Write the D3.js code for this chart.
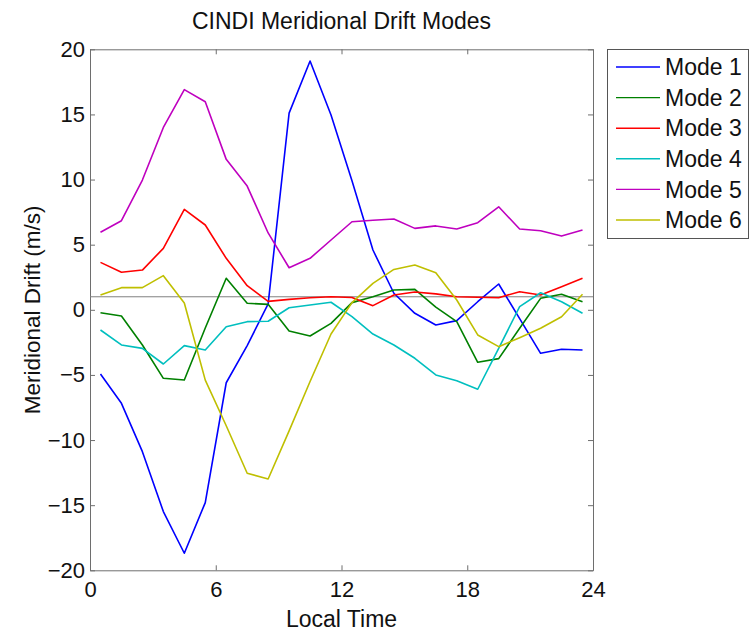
<!DOCTYPE html>
<html>
<head>
<meta charset="utf-8">
<script src="https://cdn.jsdelivr.net/npm/d3@7"></script>
<style>
  body { margin: 0; background: #fff; }
  svg { font-family: 'Liberation Sans', Arial, Helvetica, sans-serif; }
</style>
</head>
<body>
<div id="chart"></div>
<script>
// local time of each sample (hour bins)
const localTime = [0.5, 1.5, 2.5, 3.5, 4.5, 5.5, 6.5, 7.5, 8.5, 9.5, 10.5, 11.5,
  12.5, 13.5, 14.5, 15.5, 16.5, 17.5, 18.5, 19.5, 20.5, 21.5, 22.5, 23.5]

const modeNames = ['Mode 1', 'Mode 2', 'Mode 3', 'Mode 4', 'Mode 5', 'Mode 6']
const modeColors = ['#0000ff', '#008000', '#ff0000', '#00bfbf', '#bf00bf', '#bfbf00']

const mode1 = [-4.93, -7.18, -10.89, -15.49, -18.69, -14.8, -5.6, -2.75, 0.45, 15.1, 19.1, 14.95,
  9.9, 4.59, 1.27, -0.27, -1.17, -0.83, 0.62, 1.98, -0.68, -3.34, -3.03, -3.09]
const mode2 = [-0.22, -0.48, -2.7, -5.26, -5.39, -1.4, 2.42, 0.5, 0.42, -1.63, -2.01, -1.04,
  0.55, 1.0, 1.52, 1.57, 0.2, -0.91, -4.03, -3.75, -1.42, 0.88, 1.19, 0.62]
const mode3 = [3.64, 2.88, 3.05, 4.72, 7.71, 6.51, 3.95, 1.85, 0.65, 0.8, 0.93, 1.0,
  0.95, 0.32, 1.14, 1.37, 1.22, 1.0, 0.96, 0.93, 1.39, 1.14, 1.77, 2.42]
const mode4 = [-1.55, -2.7, -2.96, -4.16, -2.75, -3.09, -1.3, -0.91, -0.88, 0.16, 0.37, 0.58,
  -0.53, -1.86, -2.7, -3.72, -5.0, -5.44, -6.1, -2.96, 0.24, 1.31, 0.62, -0.27]
const mode5 = [5.95, 6.84, 9.96, 14.0, 16.9, 15.97, 11.55, 9.5, 5.9, 3.23, 3.95, 5.36,
  6.76, 6.87, 6.97, 6.25, 6.44, 6.2, 6.69, 7.91, 6.2, 6.07, 5.66, 6.12]
const mode6 = [1.14, 1.7, 1.7, 2.62, 0.52, -5.4, -8.9, -12.55, -12.99, -9.3, -5.5, -1.86,
  0.55, 2.03, 3.1, 3.44, 2.85, 0.75, -1.93, -2.83, -2.14, -1.42, -0.53, 1.19]

const refLevel = 1.0
const xTicks = [0, 6, 12, 18, 24]
const yTicks = [-20, -15, -10, -5, 0, 5, 10, 15, 20]

const series = [mode1, mode2, mode3, mode4, mode5, mode6].map((values, i) => ({
  name: modeNames[i],
  color: modeColors[i],
  points: values.map((v, j) => ({ t: localTime[j], v }))
}))

const dimensions = {
  width: 750,
  height: 635,
  margin: { top: 49.3, right: 157, bottom: 64.7, left: 90 }
}
const innerW = dimensions.width - dimensions.margin.left - dimensions.margin.right
const innerH = dimensions.height - dimensions.margin.top - dimensions.margin.bottom

const svg = d3.select('#chart').append('svg')
  .attr('width', dimensions.width)
  .attr('height', dimensions.height)

const bounds = svg.append('g')
  .attr('transform', `translate(${dimensions.margin.left}, ${dimensions.margin.top})`)

const xScale = d3.scaleLinear().domain([0, 24]).range([0, innerW])
const yScale = d3.scaleLinear().domain([-20, 20]).range([innerH, 0])

const AXIS_COLOR = '#6e6e6e'

function styleAxis (g) {
  g.select('.domain').attr('stroke', AXIS_COLOR)
  g.selectAll('.tick line').attr('stroke', AXIS_COLOR)
  g.selectAll('.tick text').attr('fill', '#111').style('font-size', '22px')
}

// bottom / left axes with labels
bounds.append('g')
  .attr('transform', `translate(0, ${innerH})`)
  .call(d3.axisBottom(xScale).tickValues(xTicks).tickSizeInner(-5).tickSizeOuter(0).tickPadding(6))
  .call(styleAxis)
  .call(g => g.selectAll('.tick text').attr('y', 27).attr('dy', 0))

bounds.append('g')
  .call(d3.axisLeft(yScale).tickValues(yTicks).tickSizeInner(-5).tickSizeOuter(0).tickPadding(5))
  .call(styleAxis)

// top / right axes, ticks only
bounds.append('g')
  .call(d3.axisTop(xScale).tickValues(xTicks).tickSizeInner(-5).tickSizeOuter(0).tickFormat(''))
  .call(styleAxis)

bounds.append('g')
  .attr('transform', `translate(${innerW}, 0)`)
  .call(d3.axisRight(yScale).tickValues(yTicks).tickSizeInner(-5).tickSizeOuter(0).tickFormat(''))
  .call(styleAxis)

// reference line
bounds.append('line')
  .attr('x1', 0)
  .attr('x2', innerW)
  .attr('y1', yScale(refLevel))
  .attr('y2', yScale(refLevel))
  .attr('stroke', '#808080')
  .attr('stroke-width', 1)

const line = d3.line()
  .x(d => xScale(d.t))
  .y(d => yScale(d.v))

bounds.selectAll('path.mode')
  .data(series)
  .join('path')
  .attr('class', 'mode')
  .attr('d', d => line(d.points))
  .attr('fill', 'none')
  .attr('stroke', d => d.color)
  .attr('stroke-width', 1.6)
  .attr('stroke-linejoin', 'round')

// title and axis labels
svg.append('text')
  .attr('x', dimensions.margin.left + innerW / 2)
  .attr('y', 29)
  .attr('text-anchor', 'middle')
  .style('font-size', '23px')
  .attr('fill', '#111')
  .text('CINDI Meridional Drift Modes')

svg.append('text')
  .attr('x', dimensions.margin.left + innerW / 2)
  .attr('y', 627)
  .attr('text-anchor', 'middle')
  .style('font-size', '23px')
  .attr('fill', '#111')
  .text('Local Time')

svg.append('text')
  .attr('transform', `translate(40, ${dimensions.margin.top + innerH / 2}) rotate(-90)`)
  .attr('text-anchor', 'middle')
  .style('font-size', '22.5px')
  .attr('fill', '#111')
  .text('Meridional Drift (m/s)')

// legend
const legend = svg.append('g').attr('transform', 'translate(607, 49)')
legend.append('rect')
  .attr('x', 0.5)
  .attr('y', 0.5)
  .attr('width', 141)
  .attr('height', 189)
  .attr('fill', '#fff')
  .attr('stroke', '#555')

const legendRow = d3.scaleLinear().domain([0, 5]).range([18, 171])

const rows = legend.selectAll('g.row')
  .data(series)
  .join('g')
  .attr('class', 'row')
  .attr('transform', (d, i) => `translate(0, ${legendRow(i)})`)

rows.append('line')
  .attr('x1', 9)
  .attr('x2', 53)
  .attr('stroke', d => d.color)
  .attr('stroke-width', 1.4)

rows.append('text')
  .attr('x', 58)
  .attr('dy', '0.36em')
  .style('font-size', '23px')
  .attr('fill', '#111')
  .text(d => d.name)
</script>
</body>
</html>
